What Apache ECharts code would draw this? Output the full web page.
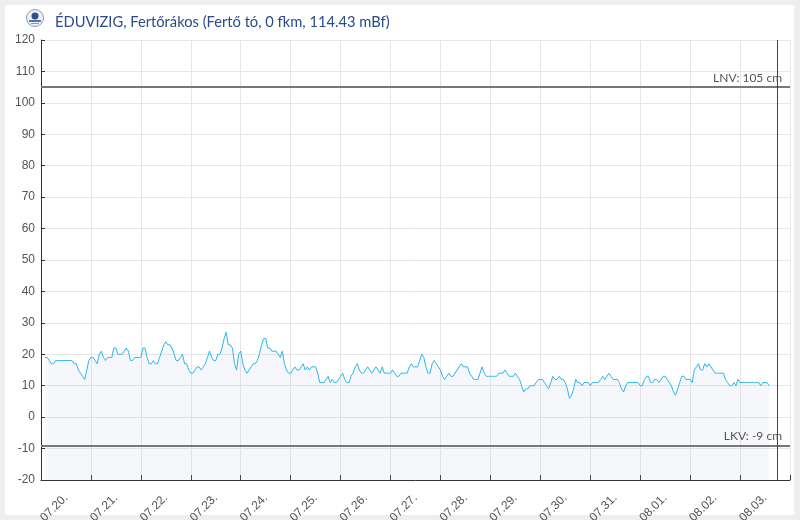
<!DOCTYPE html>
<html>
<head>
<meta charset="utf-8">
<script src="https://cdn.jsdelivr.net/npm/echarts@6/dist/echarts.min.js"></script>
<style>
  html, body { margin: 0; padding: 0; background: #eeeeee; }
  #card { position: absolute; left: 5px; top: 5px; width: 789px; height: 510px; background: #fff; }
  #chart { position: absolute; left: 0; top: 0; width: 800px; height: 520px; }
</style>
</head>
<body>
<div id="card"></div>
<div id="chart"></div>
<script>
// day labels under the x axis
const dayLabels = ['07.20.', '07.21.', '07.22.', '07.23.', '07.24.', '07.25.', '07.26.', '07.27.',
  '07.28.', '07.29.', '07.30.', '07.31.', '08.01.', '08.02.', '08.03.']

// hourly water level (cm), first value at 07.20. 02:00
const startHour = 2
const levels = [
  19, 19, 18, 17, 17, 18, 18, 18, 18, 18, 18, 18, 18, 18, 17, 17, 15, 14, 13, 12, 15, 18,
  19, 19, 18, 17, 20, 21, 19, 18, 19, 19, 19, 22, 22, 20, 20, 20, 21, 22, 21, 18, 18, 19, 19, 19,
  19, 22, 22, 19, 17, 17, 18, 17, 17, 19, 21, 23, 24, 23, 23, 22, 20, 18, 18, 19, 20, 17, 17, 15,
  14, 14, 15, 16, 16, 15, 16, 17, 19, 21, 19, 18, 18, 20, 20, 22, 25, 27, 23, 23, 22, 17, 15, 20,
  21, 17, 15, 14, 15, 16, 17, 17, 18, 20, 23, 25, 25, 22, 22, 21, 21, 21, 20, 19, 21, 17, 15, 14,
  14, 15, 16, 15, 15, 16, 17, 15, 16, 15, 16, 16, 16, 14, 11, 11, 11, 12, 13, 11, 12, 11, 11, 12,
  13, 14, 12, 11, 11, 13, 14, 16, 17, 15, 14, 14, 15, 16, 15, 14, 15, 16, 15, 14, 16, 14, 14, 14,
  14, 15, 14, 13, 13, 14, 14, 14, 14, 16, 17, 16, 16, 16, 18, 20, 19, 16, 14, 14, 17, 18, 17, 16,
  15, 13, 12, 13, 14, 13, 13, 14, 15, 16, 17, 16, 16, 16, 14, 13, 12, 12, 12, 14, 16, 14, 13, 13,
  13, 13, 13, 13, 14, 14, 14, 15, 14, 13, 13, 13, 14, 13, 12, 10, 8, 9, 9, 10, 10, 10, 11, 12,
  12, 12, 11, 10, 9, 11, 13, 12, 12, 13, 12, 12, 11, 9, 6, 7, 9, 12, 11, 11, 10, 11, 11, 11,
  10, 11, 11, 11, 11, 12, 13, 12, 13, 14, 13, 12, 12, 12, 11, 9, 8, 10, 11, 11, 11, 11, 11, 11,
  10, 10, 12, 13, 13, 11, 11, 12, 12, 11, 12, 13, 13, 12, 11, 10, 8, 7, 9, 11, 13, 13, 12, 12,
  12, 11, 15, 16, 17, 15, 15, 17, 16, 17, 16, 15, 14, 14, 14, 14, 14, 12, 11, 10, 10, 11, 10, 12,
  11, 11, 11, 11, 11, 11, 11, 11, 11, 11, 10, 11, 11, 11, 10
]

// reference levels and the "now" marker (hours from 07.20. 00:00)
const lnv = 105
const lkv = -9
const nowHour = 354

const chart = echarts.init(document.getElementById('chart'))

const seriesData = levels.map((v, i) => [startHour + i, v])

chart.setOption({
  animation: false,
  title: {
    text: 'ÉDUVIZIG, Fertőrákos (Fertő tó, 0 fkm, 114.43 mBf)',
    left: 50,
    top: 10,
    textStyle: { fontFamily: 'Lato', fontSize: 14.7, fontWeight: 'normal', color: '#2a4b8d' }
  },
  graphic: [
    {
      type: 'group',
      left: 26,
      top: 9,
      children: [
        { type: 'circle', shape: { cx: 9, cy: 9, r: 8.5 }, style: { fill: '#eef1f6', stroke: '#8d9bb5', lineWidth: 1 } },
        { type: 'circle', shape: { cx: 9, cy: 7, r: 3.5 }, style: { fill: '#2d4f8a' } },
        { type: 'rect', shape: { x: 3, y: 11, width: 12, height: 2 }, style: { fill: '#5b74a3' } },
        { type: 'rect', shape: { x: 5, y: 14, width: 8, height: 1 }, style: { fill: '#8d9bb5' } }
      ]
    }
  ],
  grid: { left: 41, right: 10, top: 40, bottom: 40, containLabel: false, outerBoundsMode: 'none' },
  xAxis: [
    {
      type: 'value',
      min: 0,
      max: 360,
      interval: 24,
      axisLine: { onZero: false, lineStyle: { color: '#333', width: 1 } },
      axisTick: { inside: true, length: 5, lineStyle: { color: '#333' } },
      axisLabel: { show: false },
      splitLine: { show: true, lineStyle: { color: '#e6e6e6' } }
    },
    {
      type: 'category',
      position: 'bottom',
      data: dayLabels,
      boundaryGap: true,
      axisLine: { show: false, onZero: false },
      axisTick: { show: false },
      splitLine: { show: false },
      axisLabel: {
        interval: 0,
        rotate: 45,
        margin: 16,
        color: '#555',
        fontSize: 12,
        fontFamily: 'Liberation Sans'
      }
    }
  ],
  yAxis: {
    type: 'value',
    min: -20,
    max: 120,
    interval: 10,
    axisLine: { show: true, lineStyle: { color: '#333', width: 1 } },
    axisTick: { show: true, inside: true, length: 4, lineStyle: { color: '#333' } },
    axisLabel: { color: '#555', fontSize: 12, margin: 6, fontFamily: 'Liberation Sans' },
    splitLine: { lineStyle: { color: '#e6e6e6' } }
  },
  series: [
    {
      type: 'line',
      xAxisIndex: 0,
      data: seriesData,
      showSymbol: false,
      lineStyle: { color: '#2bb6ea', width: 1 },
      areaStyle: { origin: 'start', color: 'rgba(190,196,222,0.2)' },
      markLine: {
        silent: true,
        symbol: 'none',
        animation: false,
        lineStyle: { color: '#777', width: 2, type: 'solid' },
        label: {
          position: 'insideEndTop',
          distance: [8, 3],
          color: '#555',
          fontSize: 12,
          fontFamily: 'Lato'
        },
        data: [
          { yAxis: lnv, label: { formatter: 'LNV: ' + lnv + ' cm' } },
          { yAxis: lkv, label: { formatter: 'LKV: ' + lkv + ' cm' } },
          { xAxis: nowHour, lineStyle: { color: '#444', width: 1 }, label: { show: false } }
        ]
      }
    }
  ]
})

window.addEventListener('resize', () => chart.resize())
</script>
</body>
</html>
